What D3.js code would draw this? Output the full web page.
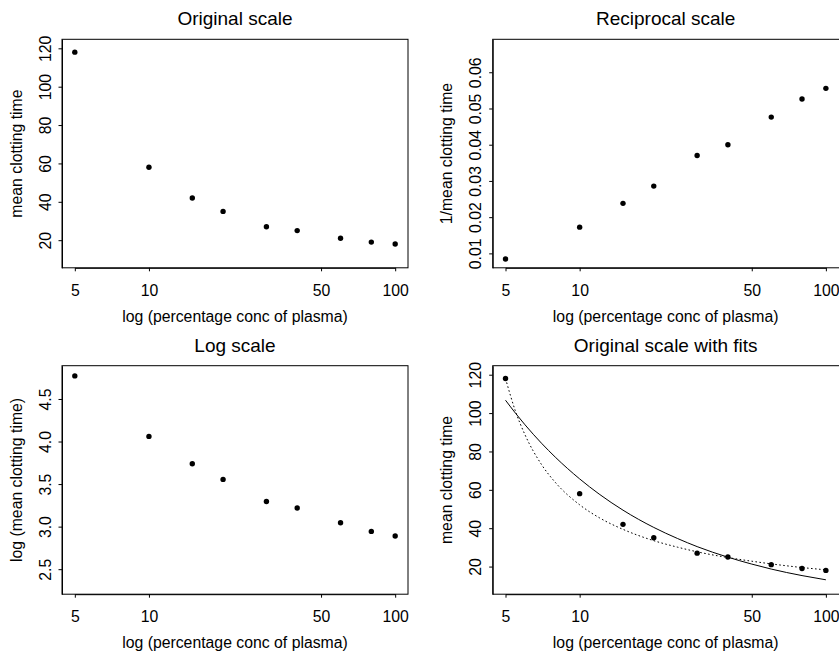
<!DOCTYPE html>
<html>
<head>
<meta charset="utf-8">
<script src="https://cdn.jsdelivr.net/npm/d3@7"></script>
<style>
  body { margin: 0; background: #fff; }
  svg { display: block; font-family: "Liberation Sans", Arial, Helvetica, sans-serif; }
</style>
</head>
<body>
<script>
// clotting data (percentage conc of plasma vs mean clotting time)
var conc = [5, 10, 15, 20, 30, 40, 60, 80, 100];
var clotTime = [118, 58, 42, 35, 27, 25, 21, 19, 18];
var recipTime = [0.00847, 0.01724, 0.02381, 0.02857, 0.03704, 0.04, 0.04762, 0.05263, 0.05556];
var logTime = [4.771, 4.060, 3.738, 3.555, 3.296, 3.219, 3.045, 2.944, 2.890];

// fitted curves
var fitConc = [5, 5.5, 6, 7, 8, 10, 12, 15, 20, 25, 30, 40, 50, 60, 80, 100];
var fitDotted = [118, 100.6, 88.7, 73.2, 63.6, 52.2, 45.5, 39.4, 33.5, 30.1, 27.7, 24.7, 22.8, 21.4, 19.5, 18.3];
var fitSolid = [106.7, 99.8, 93.9, 84.3, 76.8, 65.7, 57.8, 49.4, 40.4, 34.6, 30.4, 24.9, 21.3, 18.7, 15.3, 13.1];

// ticks
var xTicks = [5, 10, 50, 100];
var yTicksOrig = [20, 40, 60, 80, 100, 120];
var yTicksRecip = [0.01, 0.02, 0.03, 0.04, 0.05, 0.06];
var yTicksLog = [2.5, 3.0, 3.5, 4.0, 4.5];

var xLab = 'log (percentage conc of plasma)';

var panels = [
	{title: 'Original scale', ylab: 'mean clotting time', vals: clotTime, ylim: [5.6, 124.7],
	 yticks: yTicksOrig, fmt: d3.format('d'), left: 62, top: 39.3, cut: false},
	{title: 'Reciprocal scale', ylab: '1/mean clotting time', vals: recipTime, ylim: [0.00602, 0.0691],
	 yticks: yTicksRecip, fmt: d3.format('.2f'), left: 492.7, top: 39.3, cut: true},
	{title: 'Log scale', ylab: 'log (mean clotting time)', vals: logTime, ylim: [2.206, 4.891],
	 yticks: yTicksLog, fmt: d3.format('.1f'), left: 62, top: 365.7, cut: false},
	{title: 'Original scale with fits', ylab: 'mean clotting time', vals: clotTime, ylim: [5.6, 124.7],
	 yticks: yTicksOrig, fmt: d3.format('d'), left: 492.7, top: 365.7, cut: true, fits: true}
];

var svg = d3.select('body').append('svg')
	.attr('width', 839)
	.attr('height', 654);

var bw = 346, bh = 228.5,
	pad = bw * 0.04 / 1.08,
	fontSize = 15.8;

panels.forEach(function(p){
	var g = svg.append('g').attr('transform', 'translate(' + p.left + ',' + p.top + ')');

	var x = d3.scaleLog().domain([5, 100]).range([pad, bw - pad]);
	var y = d3.scaleLinear().domain(p.ylim).range([bh, 0]);

	// x axis
	var xa = g.append('g')
		.attr('transform', 'translate(0,' + bh + ')')
		.call(d3.axisBottom(x).tickValues(xTicks).tickFormat(d3.format('d')).tickSize(3.5).tickSizeOuter(0));
	xa.attr('font-size', fontSize).attr('font-family', null);
	xa.selectAll('text').attr('y', 28).attr('dy', 0);

	// y axis, labels turned like R's default
	var ya = g.append('g')
		.call(d3.axisLeft(y).tickValues(p.yticks).tickFormat(p.fmt).tickSize(3.5).tickSizeOuter(0));
	ya.attr('font-size', fontSize).attr('font-family', null);
	ya.selectAll('text')
		.attr('x', 0).attr('dy', 0)
		.attr('text-anchor', 'middle')
		.attr('transform', 'translate(-11.5,0) rotate(-90)');

	// box
	g.append('rect')
		.attr('width', bw + (p.cut ? 3 : 0))
		.attr('height', bh)
		.attr('fill', 'none')
		.attr('stroke', '#000')
		.attr('stroke-width', 1);

	// titles
	g.append('text')
		.attr('x', bw / 2).attr('y', -14.2)
		.attr('text-anchor', 'middle')
		.attr('font-size', 19)
		.text(p.title);
	g.append('text')
		.attr('x', bw / 2).attr('y', bh + 54)
		.attr('text-anchor', 'middle')
		.attr('font-size', fontSize)
		.text(xLab);
	g.append('text')
		.attr('transform', 'translate(-40.5,' + (bh / 2) + ') rotate(-90)')
		.attr('text-anchor', 'middle')
		.attr('font-size', fontSize)
		.text(p.ylab);

	// fitted curves
	if (p.fits){
		var line = d3.line().curve(d3.curveMonotoneX);
		g.append('path')
			.attr('d', line(fitConc.map(function(c, i){ return [x(c), y(fitSolid[i])]; })))
			.attr('fill', 'none').attr('stroke', '#000').attr('stroke-width', 1);
		g.append('path')
			.attr('d', line(fitConc.map(function(c, i){ return [x(c), y(fitDotted[i])]; })))
			.attr('fill', 'none').attr('stroke', '#000').attr('stroke-width', 1)
			.attr('stroke-dasharray', '1.6,2.4');
	}

	// points
	g.selectAll('circle').data(conc).enter().append('circle')
		.attr('cx', function(d){ return x(d); })
		.attr('cy', function(d, i){ return y(p.vals[i]); })
		.attr('r', 2.7)
		.attr('fill', '#000');
});
</script>
</body>
</html>
